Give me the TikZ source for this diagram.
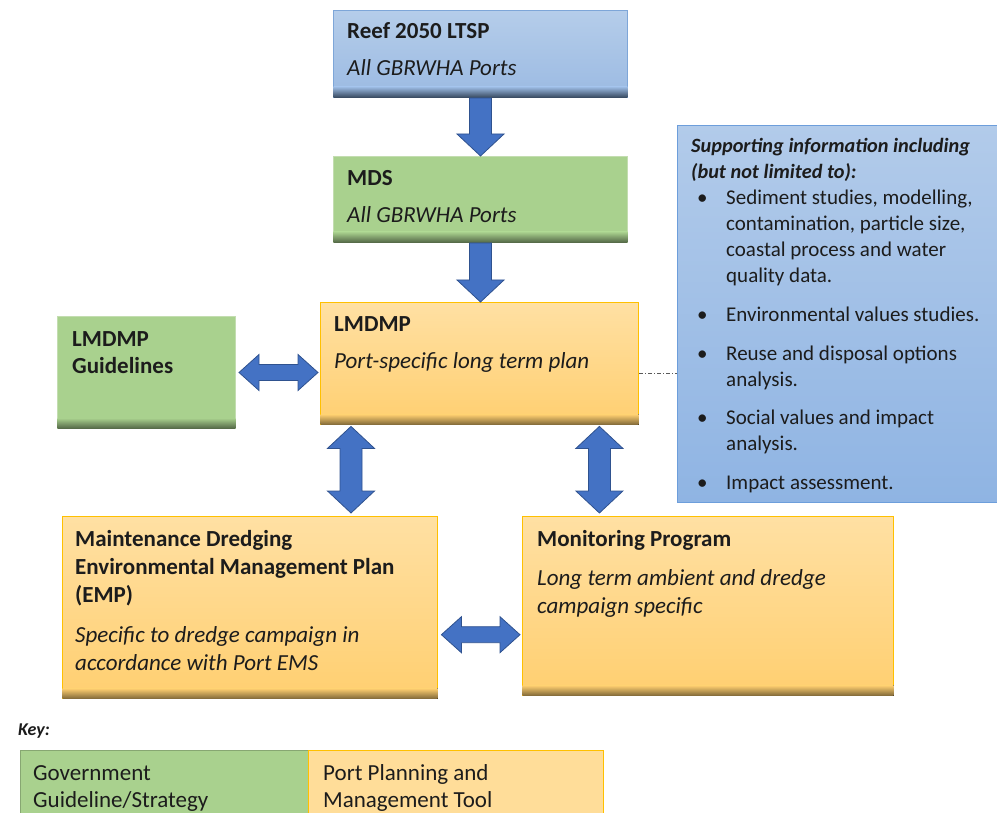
\documentclass[tikz,border=0pt]{standalone}
\usepackage{fontspec}
\setmainfont{Carlito}
\usepackage{tikz}
\usetikzlibrary{calc}
\usepackage{xcolor}

\definecolor{ReefTop}{HTML}{B5CDEA}
\definecolor{ReefBot}{HTML}{9BBAE2}
\definecolor{ReefEdge}{HTML}{7EA6D8}
\definecolor{GovGreen}{HTML}{A9D18E}
\definecolor{GovEdge}{HTML}{C3DDB0}
\definecolor{PortTop}{HTML}{FFE0A3}
\definecolor{PortBot}{HTML}{FFCF70}
\definecolor{PortEdge}{HTML}{FFC000}
\definecolor{SuppTop}{HTML}{B2CBEA}
\definecolor{SuppBot}{HTML}{8FB4E3}
\definecolor{SuppEdge}{HTML}{6D9EDB}
\definecolor{ArrowBlue}{HTML}{4472C4}
\definecolor{ArrowEdge}{HTML}{2F528F}
\definecolor{TextDark}{HTML}{1C1C1C}

% block arrows, drawn between two points
\newcommand{\arrdown}[2]{%
  \draw[blk] let \p1=(#1), \p2=(#2) in
    (\x1-11pt,\y1) -- (\x1+11pt,\y1) -- (\x1+11pt,\y2+22pt) -- (\x1+23.5pt,\y2+22pt)
    -- (\x1,\y2) -- (\x1-23.5pt,\y2+22pt) -- (\x1-11pt,\y2+22pt) -- cycle;}
\newcommand{\arrvboth}[2]{%
  \draw[blk] let \p1=(#1), \p2=(#2) in
    (\x1,\y1) -- (\x1+23.5pt,\y1-22pt) -- (\x1+11pt,\y1-22pt) -- (\x1+11pt,\y2+22pt)
    -- (\x1+23.5pt,\y2+22pt) -- (\x1,\y2) -- (\x1-23.5pt,\y2+22pt) -- (\x1-11pt,\y2+22pt)
    -- (\x1-11pt,\y1-22pt) -- (\x1-23.5pt,\y1-22pt) -- cycle;}
\newcommand{\arrhboth}[2]{%
  \draw[blk] let \p1=(#1), \p2=(#2) in
    (\x1,\y1) -- (\x1+20pt,\y1+18pt) -- (\x1+20pt,\y1+8pt) -- (\x2-20pt,\y1+8pt)
    -- (\x2-20pt,\y1+18pt) -- (\x2,\y1) -- (\x2-20pt,\y1-18pt) -- (\x2-20pt,\y1-8pt)
    -- (\x1+20pt,\y1-8pt) -- (\x1+20pt,\y1-18pt) -- cycle;}
% dark band at the foot of a box
\newcommand{\foot}[3]{%
  \fill[top color=#2, bottom color=#3] ([shift={(0.7pt,11pt)}]#1.south west) rectangle ([shift={(-0.7pt,0.7pt)}]#1.south east);}

\begin{document}
\begin{tikzpicture}[x=1pt, y=-1pt,
    box/.style={anchor=north west, inner sep=0pt, line width=1pt},
    reefbox/.style={box, draw=ReefEdge, top color=ReefTop, bottom color=ReefBot},
    govbox/.style={box, draw=GovEdge, fill=GovGreen},
    portbox/.style={box, draw=PortEdge, line width=1.4pt, top color=PortTop, bottom color=PortBot},
    suppbox/.style={box, draw=SuppEdge, top color=SuppTop, bottom color=SuppBot},
    txt/.style={anchor=north west, inner sep=0pt, align=left, text=TextDark,
        font=\fontsize{23}{28}\selectfont, execute at begin node={\rule{0pt}{19pt}}},
    stxt/.style={txt, font=\fontsize{21}{26}\selectfont},
    blk/.style={fill=ArrowBlue, draw=ArrowEdge, line width=0.8pt, line join=miter},
    link/.style={draw=gray!70!black, line width=0.7pt, dash pattern=on 4pt off 2pt on 1pt off 2pt}
]
    \useasboundingbox (0,0) rectangle (997,813);

    % boxes
    \node[reefbox, minimum width=294pt, minimum height=87pt] (reef) at (333,10) {};
    \node[govbox, minimum width=294pt, minimum height=86pt] (mds) at (333,156) {};
    \node[portbox, minimum width=318pt, minimum height=122pt] (lmdmp) at (320,302) {};
    \node[govbox, minimum width=178pt, minimum height=112pt] (guide) at (57,316) {};
    \node[portbox, minimum width=375pt, minimum height=182pt] (emp) at (62,516) {};
    \node[portbox, minimum width=371pt, minimum height=179pt] (mon) at (522,516) {};
    \node[suppbox, minimum width=320pt, minimum height=377pt] (supp) at (677,125) {};
    \node[govbox, draw=GovGreen!80!black, minimum width=288pt, minimum height=64pt] (keygov) at (20,750) {};
    \node[portbox, minimum width=295pt, minimum height=64pt, top color=PortTop!80!PortBot, bottom color=PortTop!80!PortBot] (keyport) at (308,750) {};

    \foot{reef}{ReefBot}{ReefEdge!45!black}
    \foot{mds}{GovGreen}{GovGreen!50!black}
    \foot{guide}{GovGreen}{GovGreen!50!black}
    \foot{lmdmp}{PortBot}{PortBot!50!black}
    \foot{emp}{PortBot}{PortBot!50!black}
    \foot{mon}{PortBot}{PortBot!50!black}

    % texts
    \node[txt] (reefT) at (347,22) {\textbf{Reef 2050 LTSP}\\[9pt]\textit{All GBRWHA Ports}};
    \node[txt] (mdsT) at (347,170) {\textbf{MDS}\\[9pt]\textit{All GBRWHA Ports}};
    \node[txt] (lmdmpT) at (334,316) {\textbf{LMDMP}\\[9pt]\textit{Port-specific long term plan}};
    \node[txt, font=\fontsize{23}{27}\selectfont\bfseries] (guideT) at (72,331) {LMDMP\\Guidelines};
    \node[txt] (empT) at (75,530) {\textbf{Maintenance Dredging}\\\textbf{Environmental Management Plan}\\\textbf{(EMP)}\\[12pt]\textit{Specific to dredge campaign in}\\\textit{accordance with Port EMS}};
    \node[txt] (monT) at (537,530) {\textbf{Monitoring Program}\\[11pt]\textit{Long term ambient and dredge}\\\textit{campaign specific}};
    \node[stxt] (suppT) at (691,138) {{\fontsize{20.3}{26}\selectfont\bfseries\itshape Supporting information including}\\
        {\fontsize{20.3}{26}\selectfont\bfseries\itshape (but not limited to):}\\
        \hspace*{6pt}\makebox[29pt][l]{\textbullet}Sediment studies, modelling,\\
        \hspace*{35pt}contamination, particle size,\\
        \hspace*{35pt}coastal process and water\\
        \hspace*{35pt}quality data.\\[13pt]
        \hspace*{6pt}\makebox[29pt][l]{\textbullet}Environmental values studies.\\[13pt]
        \hspace*{6pt}\makebox[29pt][l]{\textbullet}Reuse and disposal options\\
        \hspace*{35pt}analysis.\\[12pt]
        \hspace*{6pt}\makebox[29pt][l]{\textbullet}Social values and impact\\
        \hspace*{35pt}analysis.\\[13pt]
        \hspace*{6pt}\makebox[29pt][l]{\textbullet}Impact assessment.};
    \node[txt, font=\fontsize{18}{22}\selectfont] (keyT) at (18,716) {\textbf{\textit{Key:}}};
    \node[txt] (keygovT) at (33,765) {Government\\[-1pt]Guideline/Strategy};
    \node[txt] (keyportT) at (323,764) {Port Planning and\\[-1pt]Management Tool};

    % connectors
    \coordinate (lA) at ([xshift=31pt]lmdmp.south west);
    \coordinate (rA) at ([xshift=-40pt]lmdmp.south east);
    \coordinate (eA) at ([yshift=-27pt]emp.east);
    \arrdown{reef.south}{mds.north}
    \arrdown{mds.south}{lmdmp.north}
    \arrhboth{[xshift=3pt]guide.east}{[xshift=-2pt]guide.east -| lmdmp.west}
    \arrvboth{[yshift=-1pt]lA}{[yshift=3pt]lA |- emp.north}
    \arrvboth{[yshift=-1pt]rA}{[yshift=3pt]rA |- mon.north}
    \arrhboth{[xshift=3pt]eA}{[xshift=-2pt]eA -| mon.west}
    \draw[link] ([yshift=-10pt]lmdmp.east) -- ([yshift=-10pt]lmdmp.east -| supp.west);
\end{tikzpicture}
\end{document}
